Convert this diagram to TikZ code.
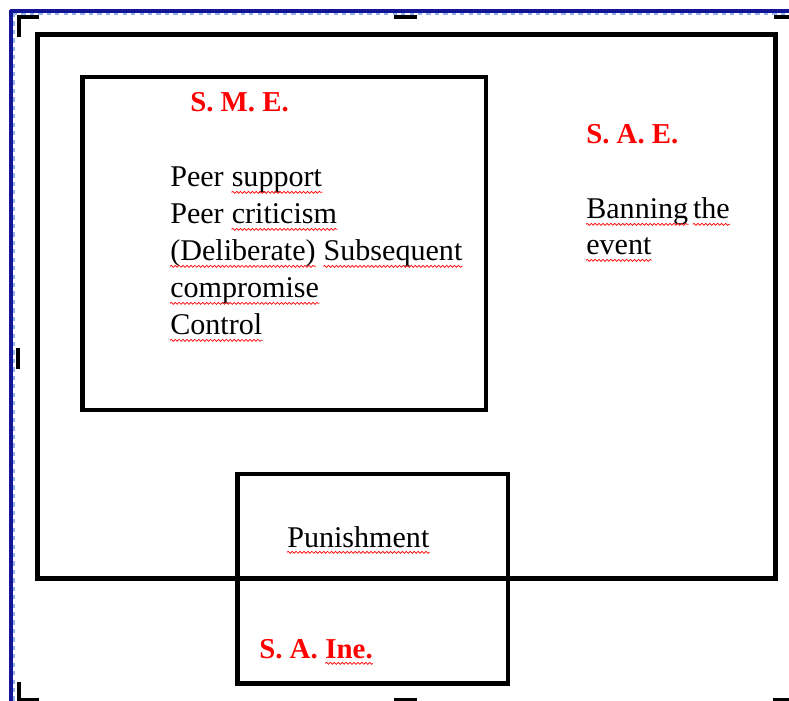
\documentclass[tikz,border=0pt]{standalone}
\usepackage{fontspec}
\setmainfont{Liberation Serif}
\usepackage{tikz}
\usetikzlibrary{positioning, decorations.pathmorphing}

\definecolor{pageblue}{RGB}{20,20,150}
\definecolor{dashblue}{RGB}{150,180,235}

\tikzset{frame/.style={line width=3.1pt},
         cropmark/.style={line width=2.8pt},
         squig/.style={red, line width=0.5pt, decorate,
                       decoration={snake, amplitude=0.7pt, segment length=2.8pt}},
         wavy/.style={append after command={([yshift=-3.8pt]\tikzlastnode.base west)
                       edge[squig] ([yshift=-3.8pt]\tikzlastnode.base east)}},
         txt/.style={anchor=base west, inner sep=0pt, font=\fontsize{21.4}{25}\selectfont},
         lbl/.style={txt, text=red, font=\fontsize{20.5}{24}\selectfont\bfseries}}

\begin{document}
\begin{tikzpicture}[x=0.025cm,y=-0.025cm]
\useasboundingbox (0,0) rectangle (789,701);

% page border
\draw[pageblue, line width=2.2pt] (10,11) -- (789,11);
\draw[pageblue, line width=2.2pt] (11,10) -- (11,701);
\draw[dashblue, dashed, line width=1pt] (13,14) -- (789,14);
\draw[dashblue, dashed, line width=1pt] (14,13) -- (14,701);

% crop marks
\draw[cropmark] (19,37) -- (19,17) -- (39,17);
\draw[cropmark] (19,682) -- (19,700) -- (39,700);
\foreach \x/\w in {394/417,774/789}
  \draw[cropmark] (\x,17) -- (\w,17);
\foreach \x/\w in {394/417,773/789}
  \draw[cropmark] (\x,700) -- (\w,700);
\draw[cropmark] (18,348) -- (18,369);

% boxes
\draw[frame] (37.5,34.5) rectangle (775.5,578.5);
\draw[frame] (82.5,77) rectangle (486,410);
\draw[frame] (237.5,474) rectangle (508,683.5);

% labels
\node[lbl] (sme) at (190,112) {S. M. E.};
\node[lbl] (sae) at (586,144) {S. A. E.};
\node[lbl] (sa) at (259,658) {S. A.};
\node[lbl, wavy] (ine) at ([xshift=5.1pt]sa.base east) {Ine.};

% S. M. E. list
\node[txt] (peer1) at (170,187) {Peer};
\node[txt, wavy] (support) at ([xshift=5.3pt]peer1.base east) {support};
\node[txt] (peer2) at (170,224) {Peer};
\node[txt, wavy] (criticism) at ([xshift=5.3pt]peer2.base east) {criticism};
\node[txt, wavy] (delib) at (170,261) {(Deliberate)};
\node[txt, wavy] (subseq) at ([xshift=5.3pt]delib.base east) {Subsequent};
\foreach \n/\y/\t in {compr/298/compromise, control/335/Control}
  \node[txt, wavy] (\n) at (170,\y) {\t};

% S. A. E. and S. A. Ine. texts
\node[txt, wavy] (banning) at (586,219) {Banning};
\node[txt, wavy] (the) at ([xshift=3pt]banning.base east) {the};
\node[txt, wavy] (event) at (586,255) {event};
\node[txt, wavy] (pun) at (287,547) {Punishment};
\end{tikzpicture}
\end{document}
